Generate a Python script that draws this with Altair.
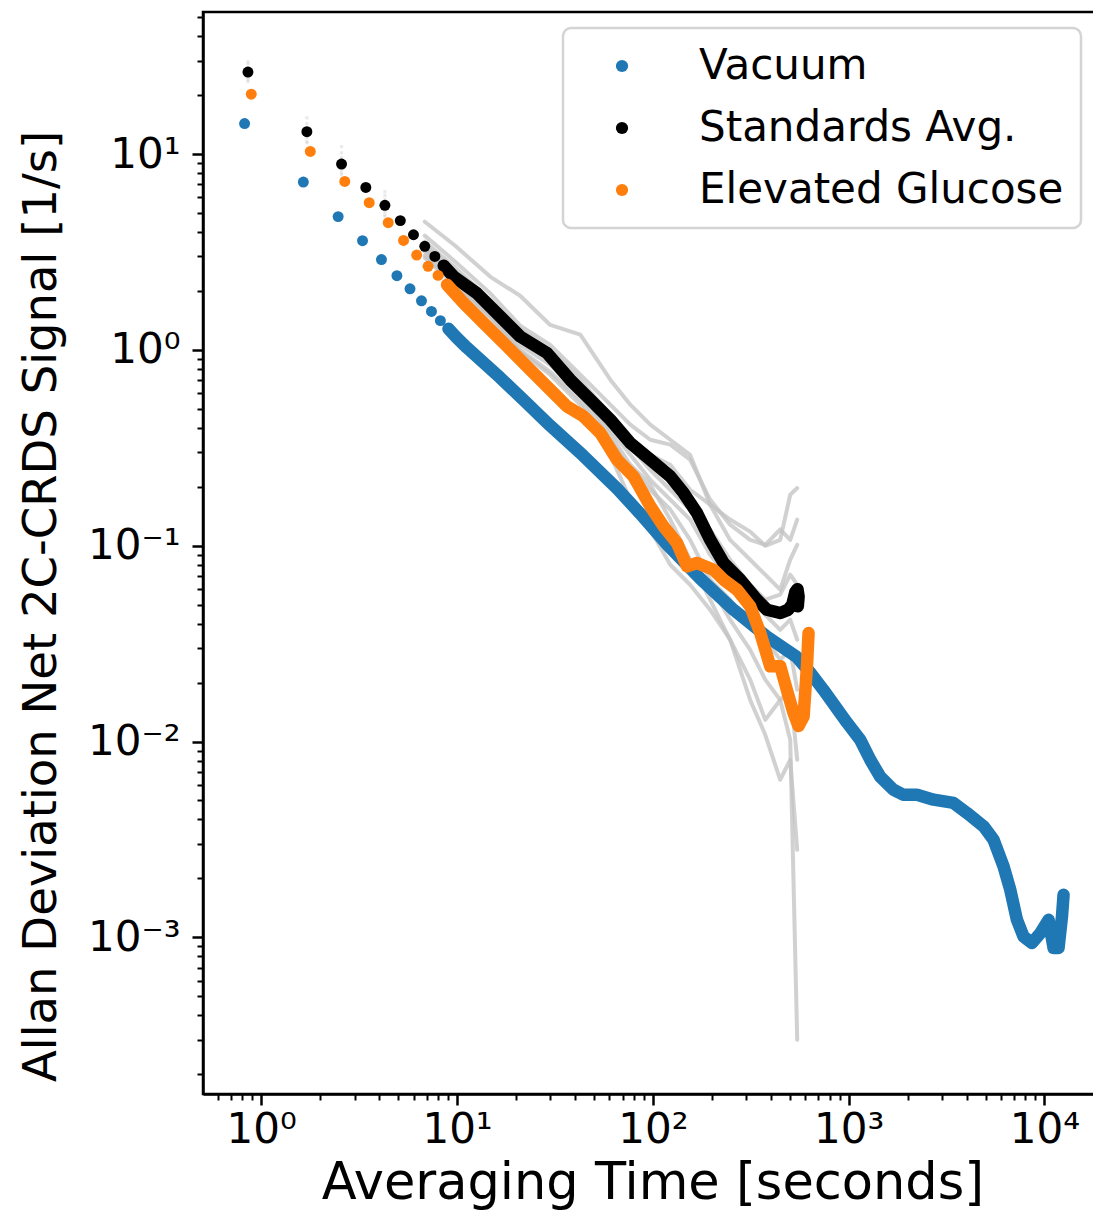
import altair as alt
import pandas as pd

SERIES = ["Vacuum", "Standards Avg.", "Elevated Glucose"]
COLORS = ["#1f77b4", "#000000", "#ff7f0e"]

# ---- Vacuum (blue): discrete early points, then dense run ----
vac_tau_pts = [0.822, 1.64, 2.47, 3.29, 4.11, 4.93, 5.75, 6.58, 7.40, 8.22, 9.04]
vac_sig_pts = [14.3, 7.19, 4.79, 3.61, 2.89, 2.39, 2.05, 1.78, 1.57, 1.41, 1.28]
vac_tau = [9.04, 9.85, 11.23, 16.6, 21.8, 29.9, 44.1, 65.8, 86.2, 118.4, 174.6, 258, 382.5,
           541, 636, 742, 980, 1146, 1289, 1450, 1690, 1901, 2233, 2715, 3434, 4018, 4887,
           5495, 6183, 6690, 7236, 7817, 8630, 9517, 10500, 11130, 11800, 12290, 12520]
vac_sig = [1.28, 1.167, 1.026, 0.721, 0.556, 0.410, 0.288, 0.1954, 0.1457, 0.1012, 0.0679,
           0.0471, 0.0343, 0.0271, 0.0225, 0.0184, 0.0125, 0.0102, 0.00807, 0.00661,
           0.00568, 0.00535, 0.00535, 0.00505, 0.00486, 0.00432, 0.00369, 0.00315,
           0.0023, 0.00175, 0.00123, 0.00101, 0.000936, 0.00105, 0.00123, 0.000883,
           0.000883, 0.00128, 0.00165]

# ---- Standards Avg. (black) ----
blk_tau_pts = [0.855, 1.71, 2.57, 3.42, 4.28, 5.13, 5.99, 6.84, 7.70, 8.55]
blk_sig_pts = [26.2, 13.0, 8.89, 6.75, 5.47, 4.57, 3.87, 3.38, 3.00, 2.69]
blk_tau = [8.55, 9.6, 12.6, 16.6, 21.0, 28.8, 37.8, 47.9, 60.6, 76.7, 97.0, 122.7, 143.5,
           168, 196.5, 229.7, 279.5, 340, 382.5, 447.5, 490, 515, 534, 548, 555, 550]
blk_sig = [2.69, 2.37, 1.95, 1.48, 1.17, 0.964, 0.704, 0.557, 0.440, 0.3345, 0.275, 0.226,
           0.186, 0.147, 0.107, 0.0816, 0.0671, 0.053, 0.0471, 0.0453, 0.047, 0.050,
           0.058, 0.060, 0.055, 0.049]

# ---- Elevated Glucose (orange) ----
org_tau_pts = [0.889, 1.78, 2.67, 3.56, 4.45, 5.33, 6.22, 7.11, 8.00, 8.89]
org_sig_pts = [20.2, 10.3, 7.24, 5.64, 4.46, 3.62, 3.05, 2.67, 2.40, 2.15]
org_tau = [8.89, 10.8, 13.66, 18.0, 23.6, 31.1, 36.4, 44.3, 53.9, 65.6, 79.7, 97.0, 113.4,
           132.8, 149.4, 168, 204, 229.7, 269, 314.4, 353.6, 397.8, 447.5, 491.5, 523,
           554.6, 588.6, 612.4, 624]
org_sig = [2.15, 1.735, 1.371, 1.041, 0.792, 0.602, 0.514, 0.457, 0.376, 0.275, 0.226,
           0.159, 0.1255, 0.1032, 0.0784, 0.0816, 0.0754, 0.0671, 0.0596, 0.049, 0.0358,
           0.0242, 0.0242, 0.0173, 0.014, 0.0120, 0.0134, 0.0242, 0.0358]

# ---- Individual standards (light grey) ----
gray_tau_early = [0.855, 1.71, 2.57, 4.28]
gray_tau_line = [6.84, 9.79, 14.8, 21.0, 29.9, 42.6, 60.6, 76.7, 97.0, 122.7, 155, 196,
                 248, 314, 375, 447, 503, 546]
gray_traces = [
    [29.6, 15.3, 10.9, 6.42, 4.51, 3.40, 2.36, 1.89, 1.34, 1.195, 0.704, 0.525, 0.415,
     0.3475, 0.291, 0.162, 0.136, 0.118, 0.0999, 0.107, 0.182, 0.197],
    [28.9, 14.3, 10.15, 6.13, 3.83, 2.82, 1.94, 1.33, 1.06, 0.746, 0.525, 0.415, 0.3475,
     0.328, 0.2747, 0.172, 0.128, 0.107, 0.101, 0.121, 0.107, 0.136],
    [27.6, 13.6, 9.57, 5.85, 3.57, 2.63, 1.80, 1.27, 1.00, 0.704, 0.466, 0.3475, 0.291,
     0.259, 0.193, 0.162, 0.107, 0.0848, 0.0711, 0.0596, 0.0848, 0.101],
    [26.9, 13.3, 9.35, 5.58, 3.40, 2.51, 1.72, 1.18, 0.933, 0.656, 0.415, 0.320, 0.244,
     0.193, 0.153, 0.121, 0.0848, 0.0632, 0.053, 0.0562, 0.0711, 0.0632],
    [25.1, 12.4, 8.72, 5.19, 3.25, 2.39, 1.64, 1.13, 0.890, 0.641, 0.391, 0.291, 0.217,
     0.172, 0.136, 0.090, 0.067, 0.053, 0.0444, 0.0372, 0.0419, 0.0331],
    [24.5, 12.1, 8.32, 5.08, 3.17, 2.28, 1.57, 1.06, 0.839, 0.590, 0.3475, 0.244, 0.193,
     0.153, 0.107, 0.067, 0.053, 0.0395, 0.0331, 0.0262, 0.0294, 0.0184],
    [23.95, 11.56, 8.03, 4.90, 3.03, 2.18, 1.49, 1.00, 0.773, 0.556, 0.316, 0.217, 0.153,
     0.1164, 0.0848, 0.0632, 0.0419, 0.0294, 0.0207, 0.0163, 0.0184, 0.00807],
    [23.4, 11.42, 7.84, 4.79, 2.95, 2.13, 1.46, 0.978, 0.746, 0.525, 0.291, 0.172, 0.121,
     0.0799, 0.0632, 0.0471, 0.0331, 0.0163, 0.01083, 0.00638, 0.00807, 0.0028],
    [25.7, 12.7, 8.92, 5.32, 3.32, 2.45, 1.68, 1.15, 0.912, 0.626, 0.369, 0.259, 0.205,
     0.136, 0.0848, 0.053, 0.0331, 0.0207, 0.0129, 0.0163, 0.0102, 0.0003],
]

# ---- axis ticks ----
x_major = [1.0, 10.0, 100.0, 1000.0, 10000.0]
x_major_labels = ["10\u2070", "10\u00b9", "10\u00b2", "10\u00b3", "10\u2074"]
y_major = [0.001, 0.01, 0.1, 1.0, 10.0]
y_major_labels = ["10\u207b\u00b3", "10\u207b\u00b2", "10\u207b\u00b9", "10\u2070", "10\u00b9"]
x_ticks = [m * 10.0 ** e for e in range(-1, 5) for m in range(1, 10)]
y_ticks = [m * 10.0 ** e for e in range(-4, 2) for m in range(1, 10)]


def label_expr(vals, labels):
    expr = "''"
    for v, l in zip(reversed(vals), reversed(labels)):
        expr = f"datum.value == {v} ? '{l}' : ({expr})"
    return expr


def major_test(vals):
    return "indexof([" + ",".join(str(v) for v in vals) + "], datum.value) >= 0"


# ---- tables ----
pts_rows = []
for name, ts, ss in [("Vacuum", vac_tau_pts, vac_sig_pts),
                     ("Standards Avg.", blk_tau_pts, blk_sig_pts),
                     ("Elevated Glucose", org_tau_pts, org_sig_pts)]:
    for t, s in zip(ts, ss):
        pts_rows.append({"series": name, "tau": t, "sigma": s})
pts = pd.DataFrame(pts_rows)


def line_df(ts, ss):
    return pd.DataFrame({"tau": ts, "sigma": ss, "idx": list(range(len(ts)))})


gray_pts_rows, gray_line_rows = [], []
for k, tr in enumerate(gray_traces):
    ne = len(gray_tau_early)
    for t, s in zip(gray_tau_early, tr[:ne]):
        gray_pts_rows.append({"trace": k, "tau": t, "sigma": s})
    for i, (t, s) in enumerate(zip(gray_tau_line, tr[ne:])):
        gray_line_rows.append({"trace": k, "tau": t, "sigma": s, "idx": i})
gray_pts = pd.DataFrame(gray_pts_rows)
gray_lines = pd.DataFrame(gray_line_rows)

FONT = "DejaVu Sans"

X = alt.X(
    "tau:Q",
    scale=alt.Scale(type="log", domain=[0.504, 20380], nice=False, zero=False),
    axis=alt.Axis(
        values=x_ticks,
        labelExpr=label_expr(x_major, x_major_labels),
        labelFont=FONT, labelFontSize=42, labelColor="black", labelPadding=4,
        labelOverlap=False, labelFlush=False, labelBaseline="top",
        tickColor="black",
        tickSize={"condition": {"test": major_test(x_major), "value": 11}, "value": 6},
        tickWidth={"condition": {"test": major_test(x_major), "value": 2.5}, "value": 2},
        domainColor="black", domainWidth=2.5, grid=False,
        title="Averaging Time [seconds]", titleFont=FONT, titleFontSize=51,
        titleFontWeight="normal", titleColor="black",
        titleX=449.5, titleY=104, titleBaseline="alphabetic", titleAlign="center",
    ),
)
Y = alt.Y(
    "sigma:Q",
    scale=alt.Scale(type="log", domain=[1.586e-4, 53.1], nice=False, zero=False),
    axis=alt.Axis(
        values=y_ticks,
        labelExpr=label_expr(y_major, y_major_labels),
        labelFont=FONT, labelFontSize=42, labelColor="black", labelPadding=12,
        labelOverlap=False, labelFlush=False,
        tickColor="black",
        tickSize={"condition": {"test": major_test(y_major), "value": 11}, "value": 6},
        tickWidth={"condition": {"test": major_test(y_major), "value": 2.5}, "value": 2},
        domainColor="black", domainWidth=2.5, grid=False,
        title="Allan Deviation Net 2C-CRDS Signal [1/s]", titleFont=FONT,
        titleFontSize=46.5, titleFontWeight="normal", titleColor="black",
        titleX=-148, titleY=594, titleBaseline="alphabetic", titleAlign="center",
        titleAngle=270,
    ),
)

GRAY = "#c2c2c2"
gray_line_layer = alt.Chart(gray_lines).mark_line(
    color=GRAY, strokeWidth=4, opacity=0.75, strokeJoin="round", strokeCap="round"
).encode(x=X, y=Y, detail="trace:N", order="idx:Q")
gray_pt_layer = alt.Chart(gray_pts).mark_square(
    color=GRAY, size=10, opacity=0.35
).encode(x=X, y=Y)


def dense(ts, ss, color):
    return alt.Chart(line_df(ts, ss)).mark_line(
        color=color, strokeWidth=12.5, strokeCap="round", strokeJoin="round"
    ).encode(x=X, y=Y, order="idx:Q")


dots = alt.Chart(pts).mark_circle(size=120, opacity=1).encode(
    x=X, y=Y,
    color=alt.Color(
        "series:N",
        scale=alt.Scale(domain=SERIES, range=COLORS),
        legend=alt.Legend(
            title=None, orient="none", legendX=360, legendY=16,
            padding=17, symbolOffset=21, labelOffset=56, rowPadding=20,
            labelFont=FONT, labelFontSize=42, labelColor="black", labelLimit=700,
            symbolSize=150, symbolType="circle", symbolStrokeWidth=0,
            strokeColor="#d4d4d4", fillColor="white", cornerRadius=8,
        ),
    ),
)

chart = alt.layer(
    gray_pt_layer,
    gray_line_layer,
    dense(vac_tau, vac_sig, COLORS[0]),
    dense(blk_tau, blk_sig, COLORS[1]),
    dense(org_tau, org_sig, COLORS[2]),
    dots,
).properties(
    width=902,
    height=1082,
    autosize=alt.AutoSizeParams(type="none"),
    padding={"left": 195, "top": 4, "right": -12, "bottom": 117},
).configure_view(
    stroke="black", strokeWidth=2.5
).configure_legend(
    strokeWidth=2.5
)

chart.save("out.html", embed_options={"renderer": "svg", "actions": False})
